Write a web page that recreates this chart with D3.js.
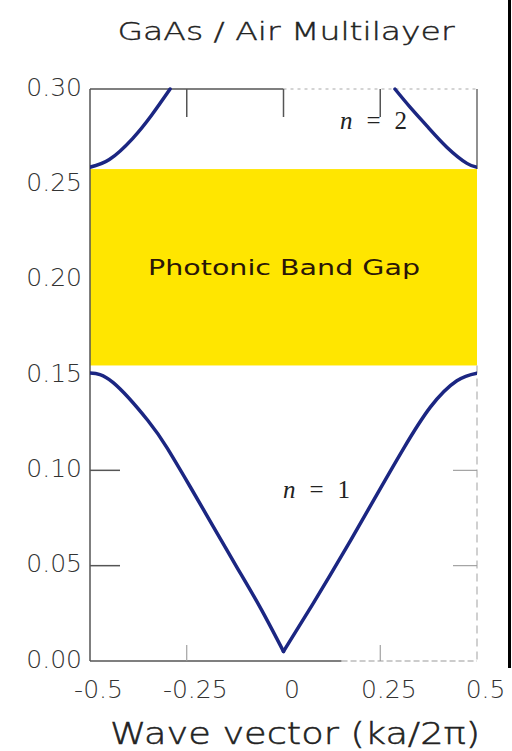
<!DOCTYPE html>
<html>
<head>
<meta charset="utf-8">
<script src="https://cdn.jsdelivr.net/npm/d3@7"></script>
<style>
  html, body { margin: 0; padding: 0; background: #fff; }
  svg { display: block; }
</style>
</head>
<body>
<svg id="chart" width="512" height="751"></svg>
<script>
// Dispersion of a GaAs / air multilayer: frequency (a/λ) vs Bloch wave vector
const xTicks = [-0.5, -0.25, 0, 0.25, 0.5];
const xTickLabels = ["-0.5", "-0.25", "0", "0.25", "0.5"];
const yTicks = [0.00, 0.05, 0.10, 0.15, 0.20, 0.25, 0.30];

// Lower band (n = 1)
const band1K = [-0.5, -0.44, -0.35, -0.30, -0.24, -0.18, -0.12, -0.06, 0.0,
                0.076, 0.164, 0.249, 0.309, 0.379, 0.448, 0.5];
const band1F = [0.151, 0.146, 0.126, 0.1115, 0.091, 0.070, 0.049, 0.028, 0.005,
                0.030, 0.060, 0.090, 0.111, 0.133, 0.147, 0.151];

// Upper band (n = 2), left and right branches
const band2LeftK = [-0.5, -0.45, -0.39, -0.34, -0.293];
const band2LeftF = [0.259, 0.263, 0.274, 0.2865, 0.300];
const band2RightK = [0.288, 0.327, 0.371, 0.422, 0.474, 0.5];
const band2RightF = [0.300, 0.2905, 0.2805, 0.2695, 0.261, 0.259];

// Photonic band gap edges
const gapRange = [0.155, 0.258];

const svg = d3.select("#chart");
const plotLeft = 90, plotRight = 477, plotTop = 89, plotBottom = 661;

const x = d3.scaleLinear().domain([-0.5, 0.5]).range([plotLeft, plotRight]);
const y = d3.scaleLinear().domain([0, 0.30]).range([plotBottom, plotTop]);

const labelFont = "'DejaVu Sans', sans-serif";

svg.append("defs").append("clipPath").attr("id", "plotClip")
  .append("rect").attr("x", plotLeft).attr("y", plotTop - 2)
  .attr("width", plotRight - plotLeft).attr("height", plotBottom - plotTop + 2);

// Band gap
svg.append("rect")
  .attr("x", x(-0.5)).attr("width", x(0.5) - x(-0.5))
  .attr("y", y(gapRange[1])).attr("height", y(gapRange[0]) - y(gapRange[1]))
  .attr("fill", "#ffe600");

svg.append("text")
  .attr("x", 284)
  .attr("y", 275)
  .attr("text-anchor", "middle")
  .attr("font-family", labelFont)
  .attr("font-size", 22)
  .attr("textLength", 272)
  .attr("lengthAdjust", "spacingAndGlyphs")
  .attr("fill", "#2a1608")
  .text("Photonic Band Gap");

// Frame
const frame = svg.append("g").attr("fill", "none");
frame.append("line").attr("x1", plotLeft).attr("x2", plotLeft).attr("y1", plotTop).attr("y2", plotBottom)
  .attr("stroke", "#555").attr("stroke-width", 1.5);
frame.append("line").attr("x1", plotLeft).attr("x2", x(0)).attr("y1", plotTop).attr("y2", plotTop)
  .attr("stroke", "#555").attr("stroke-width", 1.5);
frame.append("line").attr("x1", x(0)).attr("x2", plotRight).attr("y1", plotTop).attr("y2", plotTop)
  .attr("stroke", "#aaa").attr("stroke-width", 1.2).attr("stroke-dasharray", "3,4");
frame.append("line").attr("x1", plotLeft).attr("x2", x(0.15)).attr("y1", plotBottom).attr("y2", plotBottom)
  .attr("stroke", "#555").attr("stroke-width", 1.5);
frame.append("line").attr("x1", x(0.15)).attr("x2", plotRight).attr("y1", plotBottom).attr("y2", plotBottom)
  .attr("stroke", "#999").attr("stroke-width", 1.2).attr("stroke-dasharray", "6,3");
frame.append("line").attr("x1", plotRight).attr("x2", plotRight).attr("y1", plotTop).attr("y2", y(gapRange[1]))
  .attr("stroke", "#555").attr("stroke-width", 1.3);
frame.append("line").attr("x1", plotRight).attr("x2", plotRight).attr("y1", y(gapRange[0])).attr("y2", plotBottom)
  .attr("stroke", "#aaa").attr("stroke-width", 1.1).attr("stroke-dasharray", "8,5");

// Inner ticks
const ticks = svg.append("g").attr("stroke", "#555").attr("stroke-width", 1.5);
[0.05, 0.10].forEach(v => {
  ticks.append("line").attr("x1", plotLeft).attr("x2", plotLeft + 30).attr("y1", y(v)).attr("y2", y(v));
  ticks.append("line").attr("x1", plotRight - 24).attr("x2", plotRight).attr("y1", y(v)).attr("y2", y(v))
    .attr("stroke", "#999").attr("stroke-width", 1.1);
});
[-0.25, 0, 0.25].forEach(v => {
  ticks.append("line").attr("x1", x(v)).attr("x2", x(v)).attr("y1", plotTop).attr("y2", plotTop + 28);
});
[-0.25, 0.25].forEach(v => {
  ticks.append("line").attr("x1", x(v)).attr("x2", x(v)).attr("y1", plotBottom - 16).attr("y2", plotBottom)
    .attr("stroke", "#999").attr("stroke-width", 1.1);
});

// Axes (labels only)
const yAxis = svg.append("g")
  .attr("transform", `translate(${plotLeft},0)`)
  .call(d3.axisLeft(y).tickValues(yTicks).tickFormat(d3.format(".2f")).tickSize(0).tickPadding(8));
const xAxis = svg.append("g")
  .attr("transform", `translate(0,${plotBottom})`)
  .call(d3.axisBottom(x).tickValues(xTicks).tickFormat((d, i) => xTickLabels[i]).tickSize(0).tickPadding(19));
[yAxis, xAxis].forEach(g => {
  g.select(".domain").remove();
  g.selectAll("text")
    .attr("font-family", labelFont)
    .attr("font-size", 25)
    .attr("font-weight", 200)
    .attr("fill", "#333");
});
yAxis.selectAll("text").attr("dy", "0.25em");
xAxis.selectAll("text").attr("dx", 8);

// Bands
const line = d3.line().x(d => x(d[0])).y(d => y(d[1])).curve(d3.curveNatural);
const zipped = (ks, fs) => ks.map((k, i) => [k, fs[i]]);
const band1 = zipped(band1K, band1F);
const bandSegments = [
  band1.filter(d => d[0] <= 0),
  band1.filter(d => d[0] >= 0),
  zipped(band2LeftK, band2LeftF),
  zipped(band2RightK, band2RightF)
];
svg.append("g").attr("clip-path", "url(#plotClip)")
  .selectAll("path").data(bandSegments).join("path")
  .attr("d", line)
  .attr("fill", "none")
  .attr("stroke", "#1b2682")
  .attr("stroke-width", 3.5)
  .attr("stroke-linecap", "round")
  .attr("stroke-linejoin", "round");

// Band index labels
const bandLabel = (tx, ty, num) => {
  const t = svg.append("text")
    .attr("x", tx).attr("y", ty)
    .attr("font-family", "'Liberation Serif', 'Times New Roman', serif")
    .attr("font-size", 25)
    .attr("fill", "#222")
    .attr("textLength", 67)
    .attr("lengthAdjust", "spacing")
    .attr("xml:space", "preserve");
  t.append("tspan").attr("font-style", "italic").text("n");
  t.append("tspan").text(" = " + num);
};
bandLabel(283, 498, "1");
bandLabel(340, 129, "2");

// Title and axis title
svg.append("text")
  .attr("x", 286).attr("y", 40)
  .attr("text-anchor", "middle")
  .attr("font-family", labelFont)
  .attr("font-size", 25)
  .attr("font-weight", 200)
  .attr("textLength", 337)
  .attr("lengthAdjust", "spacingAndGlyphs")
  .attr("stroke", "#222").attr("stroke-width", 0.4)
  .attr("fill", "#222")
  .text("GaAs / Air Multilayer");

svg.append("text")
  .attr("x", 295).attr("y", 744)
  .attr("text-anchor", "middle")
  .attr("font-family", labelFont)
  .attr("font-size", 30)
  .attr("font-weight", 200)
  .attr("textLength", 370)
  .attr("lengthAdjust", "spacingAndGlyphs")
  .attr("stroke", "#222").attr("stroke-width", 0.5)
  .attr("fill", "#222")
  .text("Wave vector (ka/2π)");

// Right-hand border bar
svg.append("rect").attr("x", 508).attr("y", 0).attr("width", 3).attr("height", 668).attr("fill", "#000");
</script>
</body>
</html>
